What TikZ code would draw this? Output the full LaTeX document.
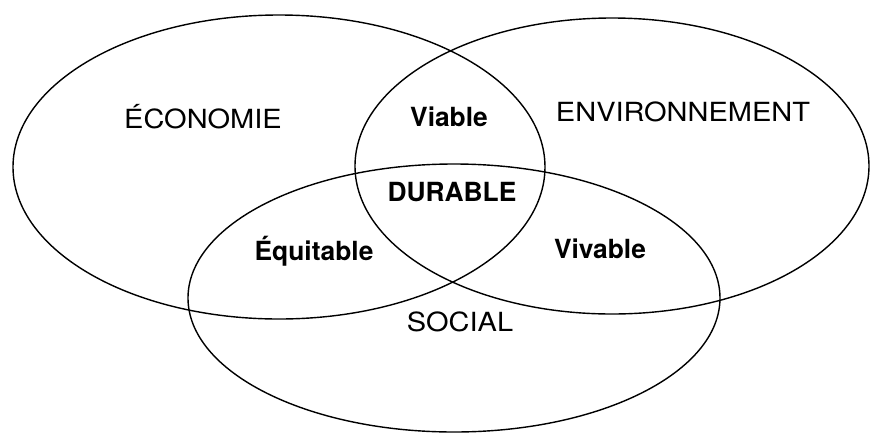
\documentclass[tikz,border=0pt]{standalone}
\usepackage{fontspec}
\setmainfont{TeX Gyre Heros}
\newfontfamily\etire{TeX Gyre Heros}[FakeStretch=1.1]
\usetikzlibrary{calc,shapes}

\begin{document}
\begin{tikzpicture}[x=0.02cm,y=-0.02cm,
	cercle/.style={line width=0.8pt},
	pilier/.style={font=\fontsize{15}{18}\etire},
	zone/.style={font=\fontsize{15}{18}\selectfont\bfseries}]
\useasboundingbox (0,0) rectangle (877,437);
			% Ellipses
\draw [cercle] (279,167) ellipse [x radius=266, y radius=152];
\draw [cercle] (612,166) ellipse [x radius=257, y radius=148];
\draw [cercle] (454,298) ellipse [x radius=266, y radius=134];
			% Textes
\node [pilier] (eco) at (203,117) {ÉCONOMIE};
\node [pilier] (env) at (683,112) {ENVIRONNEMENT};
\node [pilier] (soc) at (460,322) {SOCIAL};
\node [zone] (viable) at (449,117) {Viable};
\node [zone] (durable) at (452,192) {DURABLE};
\node [zone] (equitable) at (314,251) {Équitable};
\node [zone] (vivable) at (600,249) {Vivable};
\end{tikzpicture}
\end{document}
